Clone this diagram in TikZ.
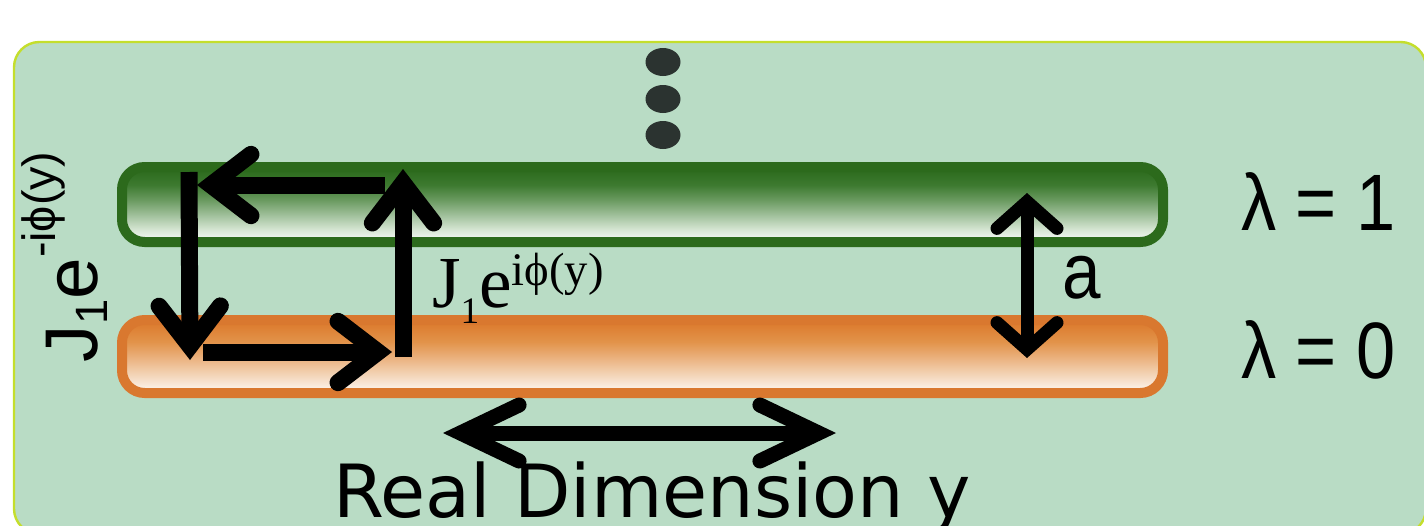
\documentclass[tikz,border=0pt]{standalone}
\usepackage{fontspec}
\usetikzlibrary{arrows.meta}
\newfontfamily\arialf{Liberation Sans}
\newfontfamily\tnrf{Liberation Serif}
\newfontfamily\dejavuf{DejaVu Sans}
\definecolor{bgfill}{HTML}{B9DCC5}
\definecolor{bgedge}{HTML}{C4DE2C}
\definecolor{gedge}{HTML}{2C6A1C}
\definecolor{oedge}{HTML}{D9782F}
\definecolor{dotc}{HTML}{2B3330}
\definecolor{g1}{HTML}{2E6C1F}
\definecolor{g2}{HTML}{3D7A30}
\definecolor{g3}{HTML}{6A9A60}
\definecolor{g4}{HTML}{A0C09B}
\definecolor{g5}{HTML}{D2E3CF}
\definecolor{g6}{HTML}{EEF4EE}
\definecolor{o1}{HTML}{DC7B2E}
\definecolor{o2}{HTML}{E2934A}
\definecolor{o3}{HTML}{E9AC75}
\definecolor{o4}{HTML}{F2D0B0}
\definecolor{o5}{HTML}{FBF1E8}
\pgfdeclareverticalshading{greenbar}{100bp}{color(0bp)=(g6); color(28bp)=(g6); color(34bp)=(g5); color(43bp)=(g4); color(53bp)=(g3); color(63bp)=(g2); color(72bp)=(g1); color(100bp)=(g1)}
\pgfdeclareverticalshading{orangebar}{100bp}{color(0bp)=(o5); color(28bp)=(o5); color(39bp)=(o4); color(51bp)=(o3); color(60bp)=(o2); color(73bp)=(o1); color(100bp)=(o1)}
\tikzset{
  loopar/.style={line width=12.75pt, -{Straight Barb[length=30pt,width=46pt,line cap=round,line join=miter]}},
  aar/.style={line width=9.75pt, {Straight Barb[length=20pt,width=45pt,line cap=round,line join=miter]}-{Straight Barb[length=20pt,width=45pt,line cap=round,line join=miter]}},
  dimar/.style={line width=11.25pt, {Straight Barb[length=44pt,width=42pt,line cap=round,line join=miter]}-{Straight Barb[length=44pt,width=42pt,line cap=round,line join=miter]}},
  lbl/.style={inner sep=0pt, outer sep=0pt, anchor=base west},
  bar/.style={line width=7.5pt, rounded corners=17pt},
}
\begin{document}
\begin{tikzpicture}[x=0.75pt,y=-0.75pt]
\useasboundingbox (0,0) rectangle (1424,525);
\begin{scope}
\clip (0,0) rectangle (1424,525);
\path[fill=bgfill, draw=bgedge, line width=1.8pt, rounded corners=19pt] (14,42) rectangle (1426,534);
\end{scope}
% bars
\path[bar, draw=gedge, shading=greenbar] (122,167) rectangle (1163,242);
\path[bar, draw=oedge, shading=orangebar] (122,320) rectangle (1163,393);
% dots
\fill[dotc] (663,62) ellipse [x radius=17.5, y radius=14];
\fill[dotc] (663,99) ellipse [x radius=17.5, y radius=14];
\fill[dotc] (663,135) ellipse [x radius=17.5, y radius=14];
% loop arrows
\coordinate (lvA) at (189,172);
\coordinate (lvB) at (190,360);
\coordinate (tpA) at (385,185);
\coordinate (tpB) at (197,185);
\coordinate (rvA) at (403,357);
\coordinate (rvB) at (403,169);
\coordinate (btA) at (203,352);
\coordinate (btB) at (392,352);
\draw[loopar] (lvA) -- (lvB);
\draw[loopar] (tpA) -- (tpB);
\draw[loopar] (rvA) -- (rvB);
\draw[loopar] (btA) -- (btB);
% a arrow
\coordinate (aT) at (1027,193);
\coordinate (aB) at (1027,358);
\draw[aar] (aT) -- (aB);
% dimension arrow
\coordinate (dL) at (443,433);
\coordinate (dR) at (836,433);
\draw[dimar] (dL) -- (dR);
% labels
\node[lbl, rotate=90] (hopL) at (97,362) {\arialf\fontsize{56}{60}\selectfont J\raisebox{-8pt}{\fontsize{34}{36}\selectfont 1}e\raisebox{31pt}{\fontsize{35}{36}\selectfont -iϕ(y)}};
\node[lbl] (hopR) at (432,307) {\tnrf\fontsize{55}{60}\selectfont J\raisebox{-12pt}{\fontsize{28}{30}\selectfont 1}e\raisebox{16.5pt}{\fontsize{35}{38}\selectfont iϕ(y)}};
\node[lbl, xscale=0.88] (lam1) at (1241,230) {\arialf\fontsize{60}{60}\selectfont λ = 1};
\node[lbl, xscale=0.88] (lam0) at (1241,378) {\arialf\fontsize{60}{60}\selectfont λ = 0};
\node[lbl, xscale=0.88] (alab) at (1062,298) {\arialf\fontsize{59}{60}\selectfont a};
\node[lbl] (dim) at (333,517) {\dejavuf\fontsize{55}{60}\selectfont Real Dimension y};
\end{tikzpicture}
\end{document}
